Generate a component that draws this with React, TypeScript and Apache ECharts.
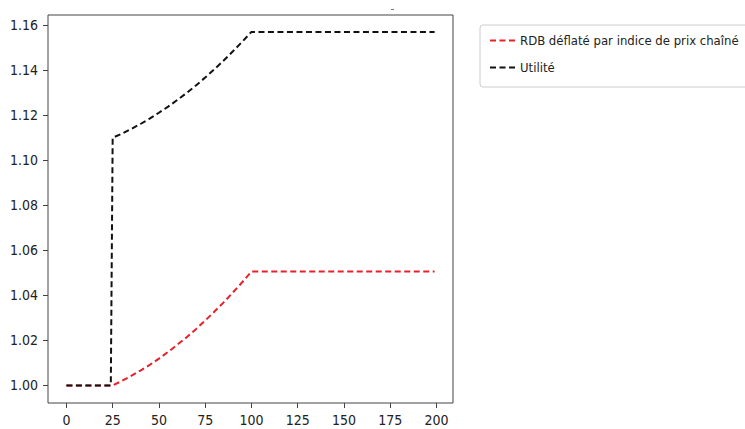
import React, { useEffect, useRef } from "react";
import * as echarts from "echarts";

const xTicks = [0, 25, 50, 75, 100, 125, 150, 175, 200];
const yTicks = [1.0, 1.02, 1.04, 1.06, 1.08, 1.1, 1.12, 1.14, 1.16];

const legendRdb = "RDB déflaté par indice de prix chaîné";
const legendUtil = "Utilité";

const rdbX = [0, 25, 30, 35, 40, 45, 50, 55, 60, 65, 70, 75, 80, 85, 90, 95, 100, 199];
const rdbY = [1.0, 1.0, 1.002, 1.0042, 1.0066, 1.0091, 1.0119, 1.0149, 1.0181, 1.0214, 1.025, 1.0288, 1.0328, 1.0369, 1.0413, 1.0458, 1.0506, 1.0506];

const utilX = [0, 24, 25, 30, 35, 40, 45, 50, 55, 60, 65, 70, 75, 80, 85, 90, 95, 100, 199];
const utilY = [1.0, 1.0, 1.11, 1.1118, 1.1139, 1.1161, 1.1185, 1.1211, 1.1238, 1.1268, 1.1299, 1.1332, 1.1367, 1.1404, 1.1443, 1.1484, 1.1526, 1.157, 1.157];

const FONT = "'DejaVu Sans Condensed', 'DejaVu Sans', sans-serif";
const RED = "#e8202a";
const BLACK = "#111";
const DASH = [6, 3.5];

export default function App() {
  const ref = useRef<HTMLDivElement>(null);
  useEffect(() => {
    document.body.style.margin = "0";
    if (!ref.current) return;
    const chart = echarts.init(ref.current, null, { renderer: "svg" });
    const pairs = (xs: number[], ys: number[]) => xs.map((x, i) => [x, ys[i]]);
    chart.setOption({
      animation: false,
      backgroundColor: "#fff",
      grid: {
        left: 48,
        right: 292,
        top: 15,
        bottom: 26,
        show: true,
        borderColor: "#444",
        borderWidth: 1,
        backgroundColor: "transparent",
      },
      graphic: [
        { type: "rect", left: 391, top: 9, shape: { width: 3, height: 1 }, style: { fill: "#777" } },
      ],
      legend: {
        orient: "vertical",
        left: 480,
        top: 25,
        padding: [9, 12, 13, 9],
        itemGap: 14,
        itemWidth: 25,
        itemHeight: 16,
        borderColor: "#ccc",
        borderWidth: 1,
        borderRadius: 3,
        itemStyle: { opacity: 0, color: "transparent", borderWidth: 0 },
        textStyle: { fontFamily: FONT, fontSize: 13, color: "#222" },
        data: [
          { name: legendRdb, lineStyle: { color: RED, width: 2, type: DASH } },
          { name: legendUtil, lineStyle: { color: BLACK, width: 2, type: DASH } },
        ],
      },
      xAxis: {
        type: "value",
        min: -9.95,
        max: 208.95,
        axisLine: { show: false, onZero: false },
        splitLine: { show: false },
        axisTick: {
          show: true,
          inside: false,
          length: 5,
          lineStyle: { color: "#444" },
          customValues: xTicks,
        },
        axisLabel: {
          customValues: xTicks,
          margin: 10,
          fontFamily: FONT,
          fontSize: 14,
          color: "#222",
          formatter: (v: number) => String(v),
        },
      },
      yAxis: {
        type: "value",
        min: 0.9922,
        max: 1.1645,
        axisLine: { show: false, onZero: false },
        splitLine: { show: false },
        axisTick: {
          show: true,
          inside: false,
          length: 5,
          lineStyle: { color: "#444" },
          customValues: yTicks,
        },
        axisLabel: {
          customValues: yTicks,
          margin: 10,
          fontFamily: FONT,
          fontSize: 14,
          color: "#222",
          formatter: (v: number) => v.toFixed(2),
        },
      },
      series: [
        {
          name: legendRdb,
          type: "line",
          symbol: "none",
          data: pairs(rdbX, rdbY),
          lineStyle: { color: RED, width: 2, type: DASH },
          itemStyle: { color: RED },
          z: 2,
        },
        {
          name: legendUtil,
          type: "line",
          symbol: "none",
          data: pairs(utilX, utilY),
          lineStyle: { color: BLACK, width: 2, type: DASH },
          itemStyle: { color: BLACK },
          z: 3,
        },
      ],
    });
    return () => chart.dispose();
  }, []);
  return <div ref={ref} style={{ width: 745, height: 429 }} />;
}
